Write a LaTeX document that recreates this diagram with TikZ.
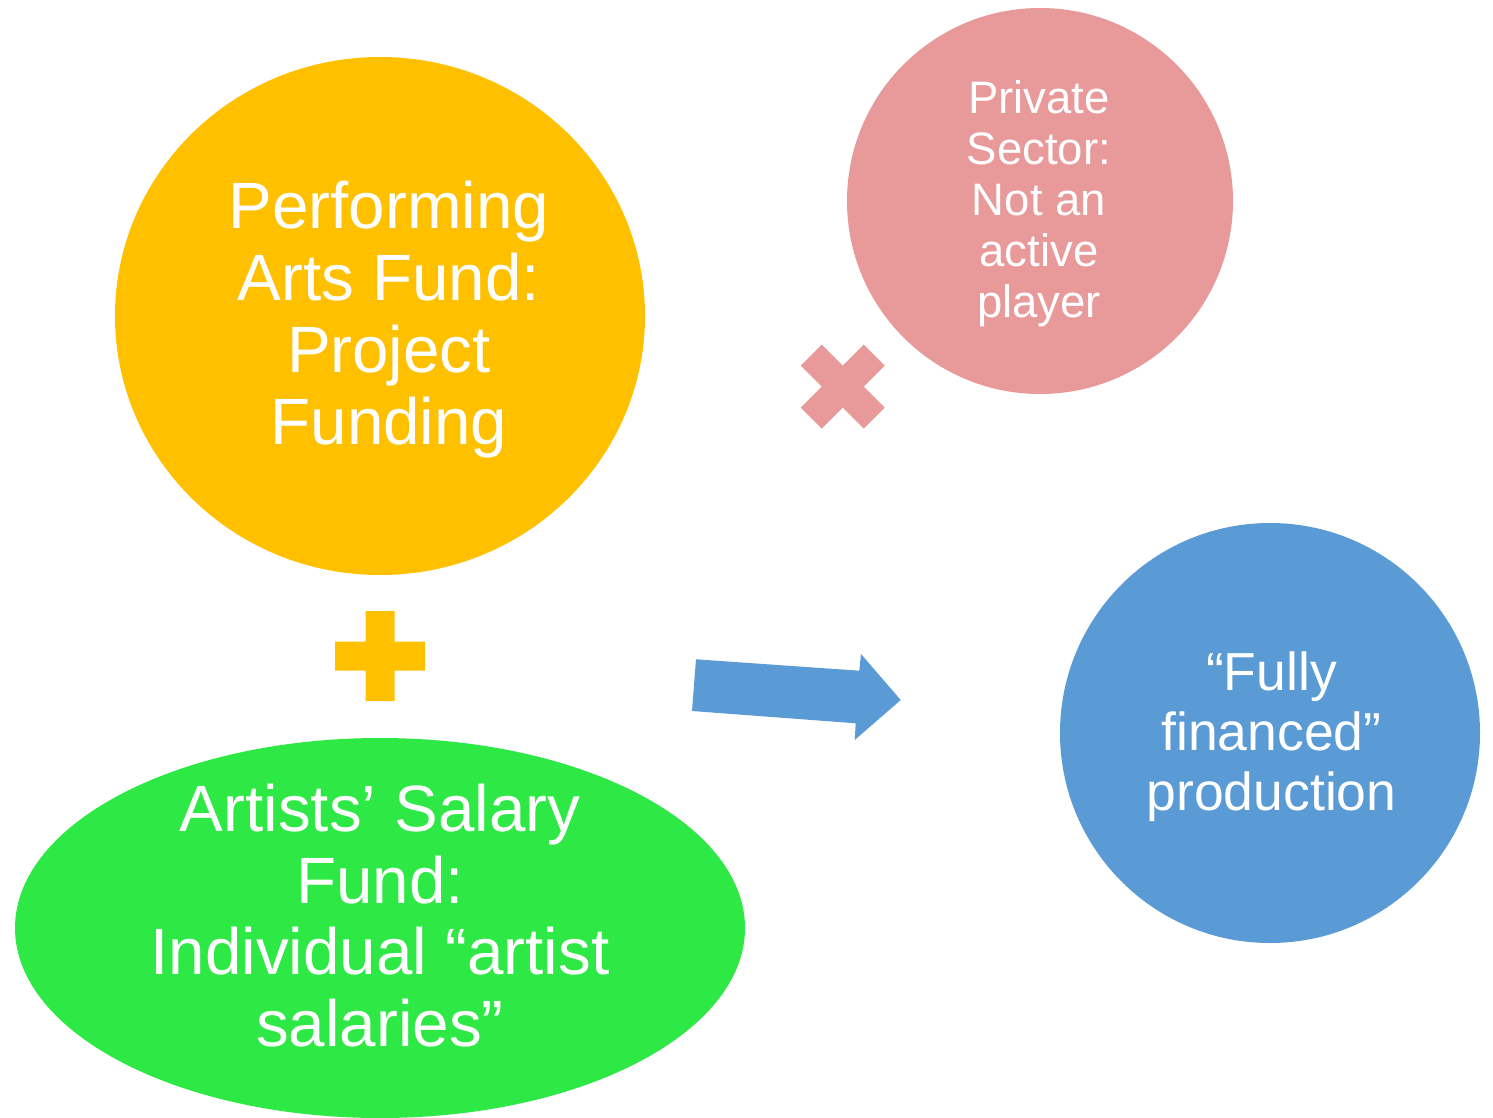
\documentclass[tikz,border=0pt]{standalone}
\usepackage{fontspec}
\setmainfont{Liberation Sans}
\usetikzlibrary{shapes.geometric,calc}
\definecolor{fundorange}{HTML}{FFC000}
\definecolor{salarygreen}{HTML}{2EE845}
\definecolor{privatepink}{HTML}{E89999}
\definecolor{resultblue}{HTML}{5B9BD5}
\begin{document}
\begin{tikzpicture}[x=1pt,y=-1pt,
  blob/.style={ellipse, inner sep=0pt, draw=none},
  caption/.style={text=white, align=center, inner sep=0pt},
  bigtext/.style={font=\fontsize{65.5}{71.8}\selectfont},
  midtext/.style={font=\fontsize{53.5}{60}\selectfont},
  smalltext/.style={font=\fontsize{45.5}{51}\selectfont}]
\useasboundingbox (0,0) rectangle (1493,1118);

% funding sources and result
\node[blob, fill=fundorange, minimum width=530pt, minimum height=518pt] (arts) at (380,316) {};
\node[blob, fill=salarygreen, minimum width=730pt, minimum height=380pt] (salary) at (380,928) {};
\node[blob, fill=privatepink, minimum width=386pt, minimum height=386pt] (private) at (1040,201) {};
\node[blob, fill=resultblue, minimum width=420pt, minimum height=420pt] (result) at (1270,733) {};

% labels
\node[caption, bigtext] (artstext) at (389,319.5)
  {Performing\\Arts Fund:\\Project\\Funding};
\node[caption, bigtext] (salarytext) at (380,915.5)
  {Artists’ Salary\\Fund:\\Individual “artist\\salaries”};
\node[caption, smalltext] (privatetext) at (1039,203.5)
  {Private\\Sector:\\Not an\\active\\player};
\node[caption, midtext] (resulttext) at (1271.5,736.5)
  {“Fully\\financed”\\production};

% plus sign between the two funds
\fill[fundorange, shift={(380.2,656.2)}]
  (-14.5,-45) -- (14.5,-45) -- (14.5,-14.5) -- (45,-14.5) -- (45,14.5)
  -- (14.5,14.5) -- (14.5,45) -- (-14.5,45) -- (-14.5,14.5) -- (-45,14.5)
  -- (-45,-14.5) -- (-14.5,-14.5) -- cycle;

% multiplication sign beside the private sector
\fill[privatepink, shift={(842.7,386.7)}]
  (-21,-42) -- (0,-21) -- (21,-42) -- (42,-21) -- (21,0) -- (42,21)
  -- (21,42) -- (0,21) -- (-21,42) -- (-42,21) -- (-21,0) -- (-42,-21) -- cycle;

% block arrow towards the result
\fill[resultblue]
  (696,659.3) -- (859.3,670.7) -- (861,654) -- (900.7,700) -- (854.7,740)
  -- (855.7,723.3) -- (692,711) -- cycle;
\end{tikzpicture}
\end{document}
